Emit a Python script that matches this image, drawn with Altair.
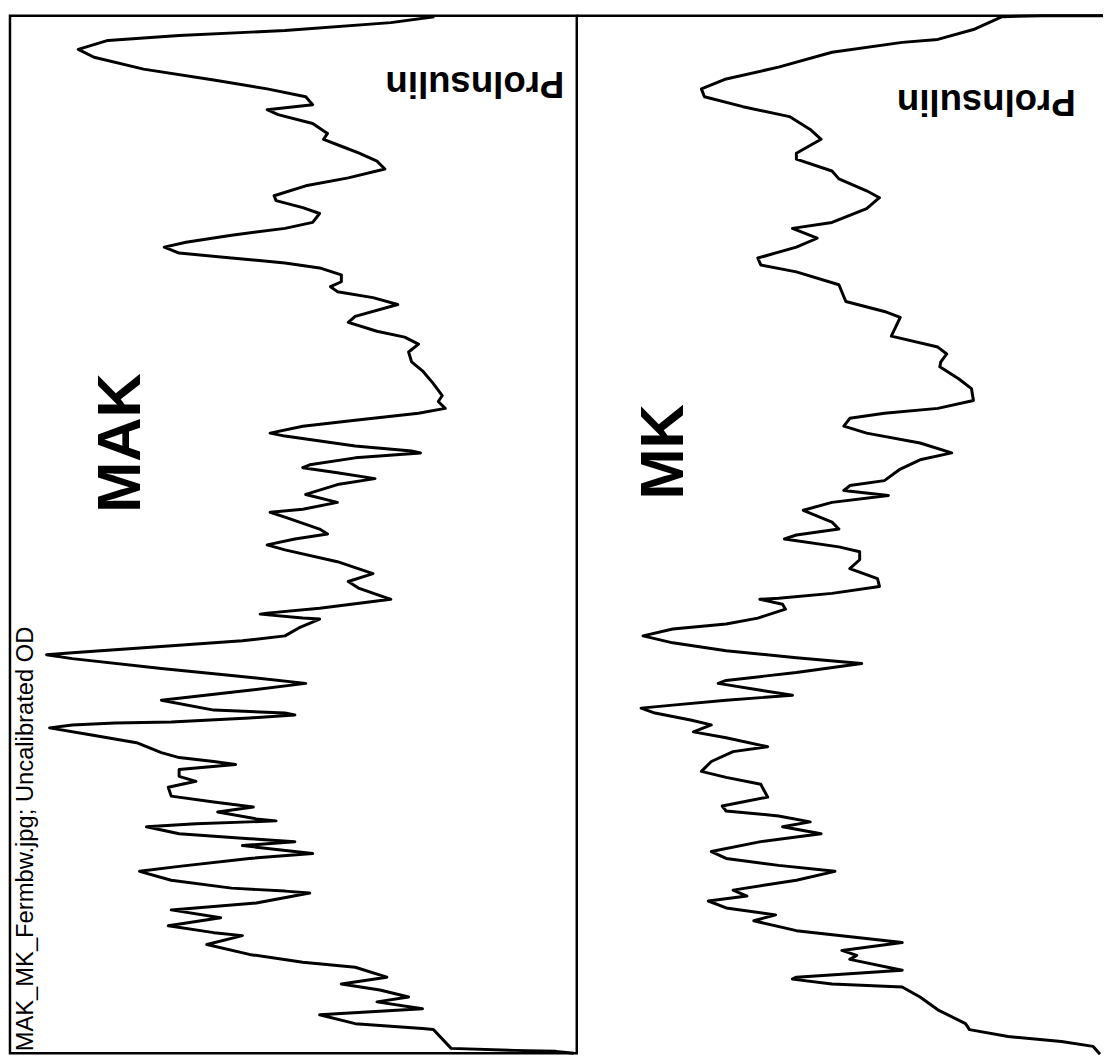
import altair as alt
import pandas as pd

# ---- MAK lane densitometry profile (position along lane, uncalibrated OD) ----
mak_pos = [1, 7, 15, 20, 25, 34, 42, 54, 65, 74, 82, 90, 95, 100, 109, 119, 125, 132, 139, 147,
           155, 164, 172, 182, 187, 194, 200, 209, 215, 222, 229, 234, 240, 245, 250, 255, 262, 269,
           274, 279, 285, 292, 304, 310, 319, 325, 332, 340, 350, 359, 372, 384, 390, 397, 402, 409,
           415, 422, 425, 435, 440, 442, 447, 454, 457, 462, 468, 474, 484, 492, 499, 502, 507, 519,
           524, 529, 535, 540, 552, 564, 572, 579, 590, 599, 604, 605, 609, 610, 619, 627, 632, 635,
           639, 644, 646, 650, 660, 667, 675, 682, 692, 702, 705, 707, 710, 714, 715, 717, 720, 727,
           735, 745, 750, 754, 757, 762, 769, 774, 780, 789, 795, 800, 805, 812, 814, 817, 820, 827,
           832, 835, 839, 847, 852, 860, 865, 874, 882, 885, 887, 897, 904, 912, 920, 927, 930, 939,
           949, 957, 962, 972, 979, 985, 992, 997, 1004, 1010, 1019, 1024, 1025, 1044, 1046, 1047, 1049]
mak_od = [429, 385, 278, 171, 99, 69, 85, 135, 206, 260, 299, 306, 260, 271, 306, 321, 317, 335, 353, 371,
          379, 342, 299, 267, 269, 296, 313, 306, 278, 224, 178, 156, 171, 224, 278, 313, 335, 335,
          324, 331, 367, 392, 349, 342, 371, 399, 413, 403, 406, 417, 428, 437, 433, 440, 413, 349,
          296, 263, 278, 349, 406, 415, 349, 303, 296, 331, 369, 331, 299, 331, 296, 263, 278, 313,
          321, 288, 260, 278, 331, 367, 342, 353, 385, 313, 260, 253, 296, 313, 292, 278, 235, 192,
          135, 63, 37, 63, 153, 224, 299, 242, 153, 206, 278, 288, 242, 163, 106, 63, 40, 81,
          128, 153, 171, 206, 228, 171, 171, 188, 160, 163, 206, 246, 210, 249, 269, 188, 138, 171,
          242, 288, 235, 306, 242, 171, 131, 163, 224, 278, 303, 249, 163, 213, 160, 206, 235, 199,
          242, 296, 349, 381, 335, 374, 403, 371, 417, 313, 349, 417, 428, 446, 510, 552, 570]

# ---- MK lane densitometry profile ----
mk_pos = [0, 0, 1, 14, 24, 27, 37, 52, 64, 74, 82, 92, 102, 115, 125, 139, 145, 157, 165, 177, 184, 195,
          209, 215, 225, 234, 245, 252, 259, 272, 289, 299, 305, 324, 335, 342, 350, 355, 367, 377,
          389, 397, 402, 407, 415, 422, 432, 442, 449, 459, 470, 475, 480, 485, 492, 500, 512, 519,
          525, 529, 537, 542, 550, 559, 569, 577, 584, 589, 590, 595, 600, 609, 615, 620, 627, 634,
          642, 649, 655, 664, 672, 675, 682, 687, 692, 697, 700, 705, 712, 717, 724, 730, 739, 744,
          754, 764, 770, 777, 790, 799, 804, 809, 815, 820, 827, 835, 845, 852, 859, 865, 874, 884,
          890, 895, 902, 909, 915, 925, 937, 945, 950, 954, 965, 972, 974, 979, 982, 992, 1005, 1019,
          1025, 1032, 1037, 1042, 1050]
mk_od = [532, 470, 430, 401, 365, 329, 258, 204, 151, 126, 129, 168, 215, 236, 247, 222, 222, 258, 265, 293, 306, 293,
         258, 218, 243, 222, 183, 186, 222, 265, 272, 311, 327, 318, 365, 374, 368, 367, 386, 399,
         401, 365, 311, 276, 270, 293, 347, 379, 347, 326, 311, 276, 270, 315, 258, 229, 258, 265,
         222, 210, 265, 286, 286, 276, 304, 306, 258, 204, 185, 208, 211, 183, 151, 97, 67, 97,
         151, 222, 288, 222, 151, 143, 186, 218, 151, 97, 65, 79, 115, 136, 118, 151, 193, 158,
         136, 126, 151, 186, 193, 147, 151, 204, 236, 208, 247, 186, 136, 151, 204, 261, 222, 158,
         172, 133, 151, 201, 179, 222, 329, 268, 283, 276, 329, 222, 218, 258, 329, 347, 365, 393,
         397, 436, 490, 522, 529]

lane_labels = ["MAK", "MK"]
band_label = "Prolnsulin"
file_label = "MAK_MK_Fermbw.jpg; Uncalibrated OD"

FONT = "Liberation Sans"
LW, RW, H = 573, 532, 1049


def xs(w):
    return alt.Scale(domain=[0, w])


def ys():
    return alt.Scale(domain=[0, H], reverse=True)


def trace(pos, od, w):
    df = pd.DataFrame({"pos": pos, "od": od, "i": list(range(len(pos)))})
    return alt.Chart(df).mark_line(color="black", strokeWidth=3, strokeJoin="round").encode(
        x=alt.X("od:Q", scale=xs(w), axis=None),
        y=alt.Y("pos:Q", scale=ys(), axis=None),
        order="i:Q",
    )


def label(text, od, pos, w, **kw):
    df = pd.DataFrame({"od": [od], "pos": [pos], "t": [text]})
    return alt.Chart(df).mark_text(font=FONT, color="black", **kw).encode(
        x=alt.X("od:Q", scale=xs(w), axis=None),
        y=alt.Y("pos:Q", scale=ys(), axis=None),
        text="t:N",
    )


left = alt.layer(
    trace(mak_pos, mak_od, LW),
    label(lane_labels[0], 112, 432, LW, angle=270, fontSize=62, fontWeight="bold",
          align="center", baseline="middle"),
    label(band_label, 470, 68, LW, angle=180, fontSize=37, fontWeight="bold",
          align="center", baseline="middle"),
    label(file_label, 23, 1047, LW, angle=270, fontSize=24, align="left", baseline="alphabetic"),
).properties(width=LW, height=H, view=alt.ViewBackground(stroke="black", strokeWidth=2.5))

top_rule = alt.Chart(pd.DataFrame({"a": [0]})).mark_rule(color="black", strokeWidth=2.5).encode(
    x=alt.value(0), x2=alt.value(RW), y=alt.value(0)
)

right = alt.layer(
    trace(mk_pos, mk_od, RW),
    top_rule,
    label(lane_labels[1], 88, 441, RW, angle=270, fontSize=62, fontWeight="bold",
          align="center", baseline="middle"),
    label(band_label, 414, 86, RW, angle=180, fontSize=37, fontWeight="bold",
          align="center", baseline="middle"),
).properties(width=RW, height=H)

chart = alt.hconcat(left, right, spacing=0, bounds="flush").properties(
    padding=0, background="white"
).configure_view(strokeWidth=0)

chart.save("out.html", embed_options={"renderer": "svg", "actions": False})
